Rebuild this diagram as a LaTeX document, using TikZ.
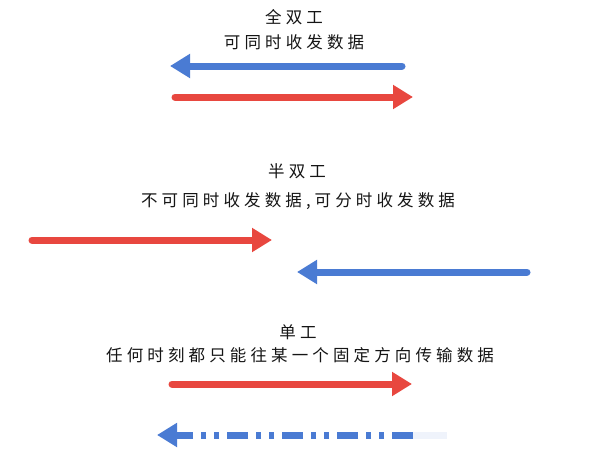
\documentclass[tikz,border=0pt]{standalone}
\usepackage{fontspec}
\newfontfamily\cjk[LetterSpace=25]{Noto Sans CJK SC}
\usetikzlibrary{arrows.meta}
\definecolor{ared}{HTML}{E8473F}
\definecolor{ablue}{HTML}{4A7BD3}
\definecolor{txt}{HTML}{151515}
\begin{document}
\begin{tikzpicture}[x=1pt,y=-1pt,
  lbl/.style={font=\cjk\fontsize{16.5}{18}\selectfont, text=txt, inner sep=0pt},
  arr/.style={line width=7pt, line cap=round, -{Triangle[length=20pt,width=23pt]}},
  redarr/.style={arr, draw=ared},
  bluearr/.style={arr, draw=ablue},
  dasharr/.style={bluearr, line cap=butt, dash pattern=on 21pt off 8pt on 5pt off 8pt on 5pt off 8pt},
  faint/.style={line width=7pt, draw=ablue!9}]
\fill[white] (0,0) rectangle (589,458);
\useasboundingbox (0,0) rectangle (589,458);
% full duplex
\node[lbl] (t1) at (294,17) {全双工};
\node[lbl] (s1) at (294,42) {可同时收发数据};
\coordinate (fb1) at (402,66); \coordinate (fb2) at (170,66);
\coordinate (fr1) at (175,97); \coordinate (fr2) at (413,97);
\draw[bluearr] (fb1) -- (fb2);
\draw[redarr] (fr1) -- (fr2);
% half duplex
\node[lbl] (t2) at (297,171) {半双工};
\node[lbl] (s2) at (298,201) {不可同时收发数据,可分时收发数据};
\coordinate (hr1) at (32,240); \coordinate (hr2) at (272,240);
\coordinate (hb1) at (527,272); \coordinate (hb2) at (297,272);
\draw[redarr] (hr1) -- (hr2);
\draw[bluearr] (hb1) -- (hb2);
% simplex
\node[lbl] (t3) at (298,332) {单工};
\node[lbl] (s3) at (300,355) {任何时刻都只能往某一个固定方向传输数据};
\coordinate (sr1) at (172,384); \coordinate (sr2) at (412,384);
\coordinate (sb1) at (413,435); \coordinate (sb2) at (157,435);
\coordinate (sf) at (447,435);
\draw[faint] (sb1) -- (sf);
\draw[redarr] (sr1) -- (sr2);
\draw[dasharr] (sb1) -- (sb2);
\end{tikzpicture}
\end{document}
